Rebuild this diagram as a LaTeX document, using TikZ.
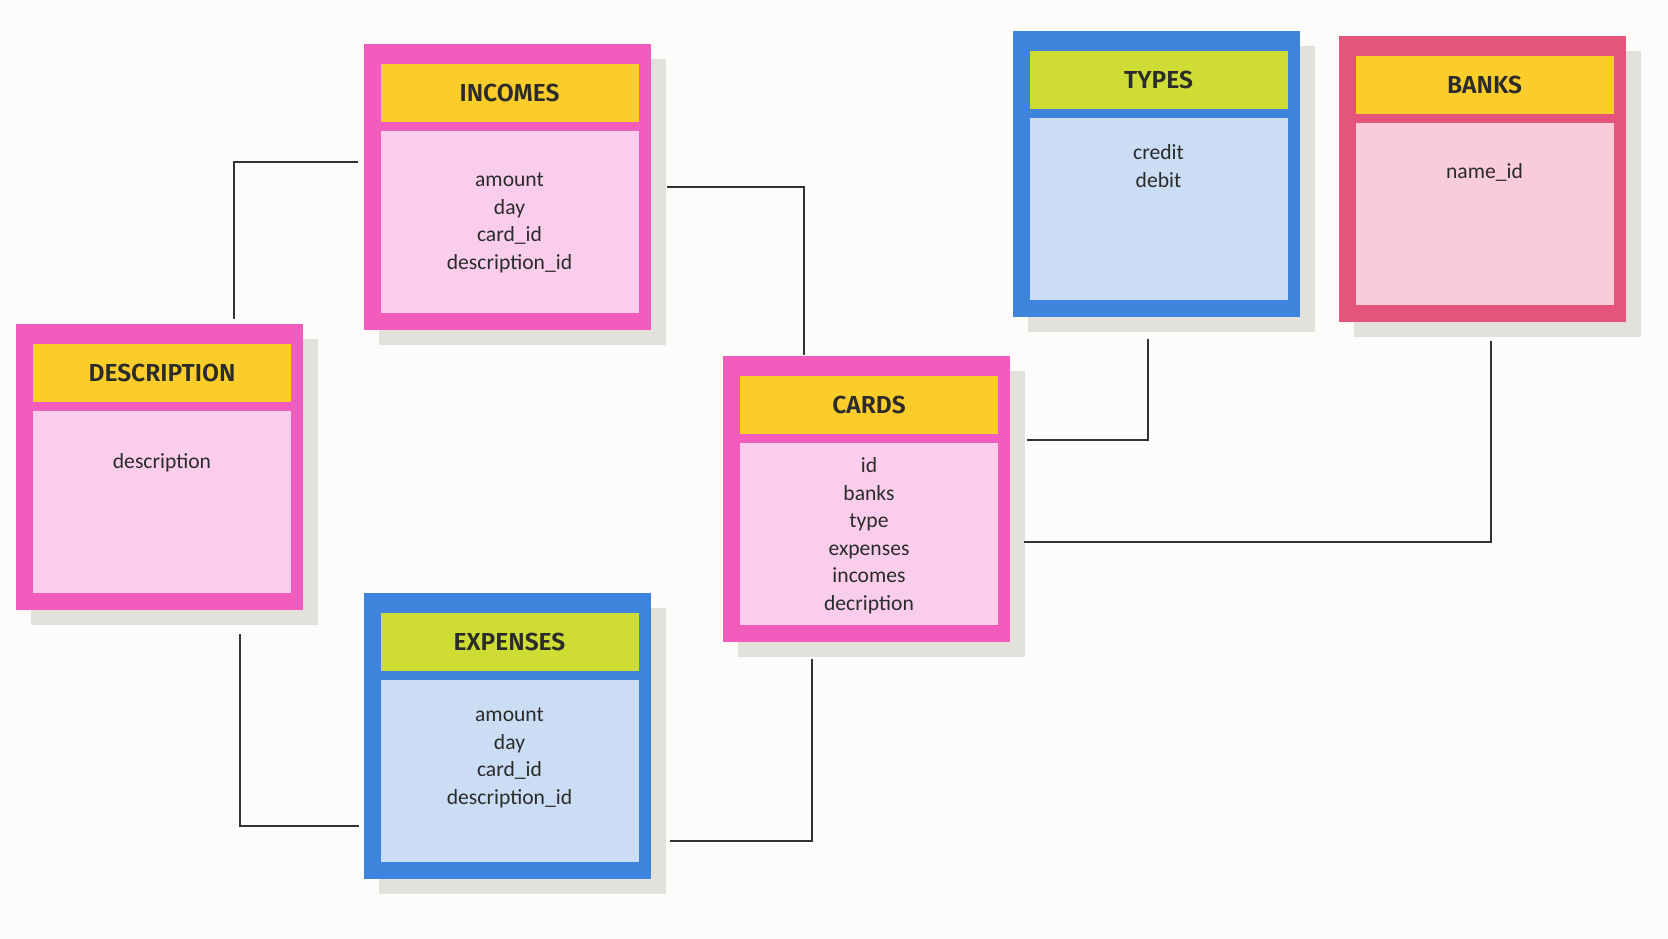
\documentclass[tikz,border=0pt]{standalone}
\usepackage{fontspec}
\setmainfont{Carlito}
\newfontfamily\headfont{Fira Sans SemiBold}
\definecolor{paper}{HTML}{FDFCFA}
\definecolor{shadowgray}{HTML}{E3E1DC}
\definecolor{pinkedge}{HTML}{F25CBD}
\definecolor{pinkbody}{HTML}{F9CDEB}
\definecolor{yellowhead}{HTML}{FBCD2B}
\definecolor{blueedge}{HTML}{3F84DC}
\definecolor{bluebody}{HTML}{CADDF4}
\definecolor{limehead}{HTML}{CEDC33}
\definecolor{rededge}{HTML}{E5547B}
\definecolor{rosebody}{HTML}{F8CCD8}
\definecolor{ink}{HTML}{2B2B2B}
\definecolor{linkgray}{HTML}{333333}
\begin{document}
\begin{tikzpicture}
        [x=0.5pt,y=-0.5pt,
         tab/.style={minimum width=143.5pt,minimum height=143pt,inner sep=0pt},
         shade/.style={tab,fill=shadowgray},
         head/.style={minimum width=129pt,minimum height=29pt,inner sep=0pt,anchor=north,
                      text=ink,font=\headfont\fontsize{12.3}{14}\selectfont},
         body/.style={minimum width=129pt,minimum height=91pt,inner sep=0pt,anchor=north},
         field/.style={anchor=north,align=center,inner sep=0pt,text=ink,
                       font=\fontsize{10.8}{13.8}\selectfont},
         link/.style={draw=linkgray,line width=1.4pt}]
        \fill[paper] (0,0) rectangle (1668,938);

        % incomes
        \node[shade] (incs) at (522,202) {};
        \node[tab,fill=pinkedge] (inc) at (507,187) {};
        \node[head,fill=yellowhead] (inch) at ([xshift=1.25pt,yshift=-10pt]inc.north) {INCOMES};
        \node[body,fill=pinkbody] (incb) at ([xshift=1.25pt,yshift=-43.5pt]inc.north) {};
        \node[field] (incf) at ([yshift=-21pt]incb.north) {amount\\day\\card\_id\\description\_id};

        % expenses
        \node[shade] (exps) at (522,751) {};
        \node[tab,fill=blueedge] (exp) at (507,736) {};
        \node[head,fill=limehead] (exph) at ([xshift=1.25pt,yshift=-10pt]exp.north) {EXPENSES};
        \node[body,fill=bluebody] (expb) at ([xshift=1.25pt,yshift=-43.5pt]exp.north) {};
        \node[field] (expf) at ([yshift=-14pt]expb.north) {amount\\day\\card\_id\\description\_id};

        % description
        \node[shade] (descs) at (174.5,482) {};
        \node[tab,fill=pinkedge] (desc) at (159.5,467) {};
        \node[head,fill=yellowhead] (desch) at ([xshift=1.25pt,yshift=-10pt]desc.north) {DESCRIPTION};
        \node[body,fill=pinkbody] (descb) at ([xshift=1.25pt,yshift=-43.5pt]desc.north) {};
        \node[field] (descf) at ([yshift=-21pt]descb.north) {description};

        % cards
        \node[shade] (cardss) at (881.5,513.5) {};
        \node[tab,fill=pinkedge] (cards) at (866.5,498.5) {};
        \node[head,fill=yellowhead] (cardsh) at ([xshift=1.25pt,yshift=-10pt]cards.north) {CARDS};
        \node[body,fill=pinkbody] (cardsb) at ([xshift=1.25pt,yshift=-43.5pt]cards.north) {};
        \node[field] (cardsf) at ([yshift=-7.5pt]cardsb.north) {id\\banks\\type\\expenses\\incomes\\decription};

        % types
        \node[shade] (typess) at (1171,188.5) {};
        \node[tab,fill=blueedge] (types) at (1156,173.5) {};
        \node[head,fill=limehead] (typesh) at ([xshift=1.25pt,yshift=-10pt]types.north) {TYPES};
        \node[body,fill=bluebody] (typesb) at ([xshift=1.25pt,yshift=-43.5pt]types.north) {};
        \node[field] (typesf) at ([yshift=-13.5pt]typesb.north) {credit\\debit};

        % banks
        \node[shade] (bankss) at (1497,193.5) {};
        \node[tab,fill=rededge] (banks) at (1482,178.5) {};
        \node[head,fill=yellowhead] (banksh) at ([xshift=1.25pt,yshift=-10pt]banks.north) {BANKS};
        \node[body,fill=rosebody] (banksb) at ([xshift=1.25pt,yshift=-43.5pt]banks.north) {};
        \node[field] (banksf) at ([yshift=-20.5pt]banksb.north) {name\_id};

        \draw[link] ([xshift=37.25pt,yshift=2.5pt]desc.north) |- ([xshift=-2.5pt,yshift=12.5pt]inc.west);
        \draw[link] ([xshift=8pt]inc.east) -| ([xshift=-31.25pt]cards.north);
        \draw[link] ([xshift=40.25pt,yshift=-12pt]desc.south) |- ([xshift=-2pt,yshift=-45pt]exp.west);
        \draw[link] ([xshift=9.5pt,yshift=-52.5pt]exp.east) -| ([xshift=-27.25pt,yshift=-8.5pt]cards.south);
        \draw[link] ([xshift=8.5pt,yshift=29.25pt]cards.east) -| ([xshift=-4pt,yshift=-11pt]types.south);
        \draw[link] ([xshift=7pt,yshift=-21.75pt]cards.east) -| ([xshift=4.5pt,yshift=-9.5pt]banks.south);
      \end{tikzpicture}
\end{document}
